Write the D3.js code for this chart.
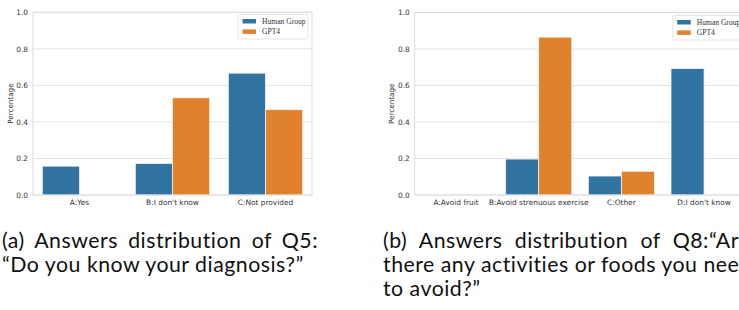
<!DOCTYPE html>
<html>
<head>
<meta charset="utf-8">
<script src="https://cdn.jsdelivr.net/npm/d3@7"></script>
<style>
  body { margin: 0; background: #fff; }
  svg { display: block; }
  .tick text { font-family: "DejaVu Sans", sans-serif; font-size: 7.4px; fill: #333; }
  .caption { font-family: Lato, sans-serif; font-size: 21.3px; letter-spacing: 0.5px; fill: #111; }
</style>
</head>
<body>
<svg id="chart" width="739" height="310"></svg>
<script>
// answers to Q5
var q5Categories = ["A:Yes", "B:I don't know", "C:Not provided"];
var q5Human = [0.158, 0.173, 0.667];
var q5Gpt4 = [0, 0.532, 0.467];

// answers to Q8
var q8Categories = ["A:Avoid fruit", "B:Avoid strenuous exercise", "C:Other", "D:I don't know"];
var q8Human = [0, 0.197, 0.104, 0.693];
var q8Gpt4 = [0, 0.865, 0.130, 0];

var seriesNames = ["Human Group", "GPT4"];
var yTicks = [0, 0.2, 0.4, 0.6, 0.8, 1.0];

var colors = ["#3274a1", "#e1812c"];
var svg = d3.select("#chart");

var drawPanel = function(cfg) {
    var x = d3.scaleBand().domain(cfg.categories).range([cfg.x0, cfg.x1]).paddingInner(0).paddingOuter(0);
    var y = d3.scaleLinear().domain([0, 1]).range([cfg.y1, cfg.y0]);
    var sub = d3.scaleBand().domain(seriesNames).range([0, x.bandwidth() * 0.8]);
    var g = svg.append("g");

    // grid lines
    g.append("g").selectAll("line").data(yTicks).join("line")
        .attr("x1", cfg.x0).attr("x2", cfg.x1)
        .attr("y1", function(d) { return y(d); }).attr("y2", function(d) { return y(d); })
        .attr("stroke", "#e3e3e3").attr("stroke-width", 1);

    // bars
    var rows = cfg.categories.map(function(c, i) {
        return [{cat: c, s: 0, v: cfg.human[i]}, {cat: c, s: 1, v: cfg.gpt4[i]}];
    });
    g.append("g").selectAll("g").data(rows).join("g")
        .selectAll("rect").data(function(d) { return d; }).join("rect")
        .attr("x", function(d) { return x(d.cat) + x.bandwidth() * 0.1 + sub(seriesNames[d.s]); })
        .attr("width", sub.bandwidth())
        .attr("y", function(d) { return y(d.v); })
        .attr("height", function(d) { return y(0) - y(d.v); })
        .attr("fill", function(d) { return colors[d.s]; })
        .attr("stroke", function(d) { return d.v > 0 ? "#f4f4f4" : "none"; })
        .attr("stroke-width", 0.8);

    // spines
    g.append("rect").attr("x", cfg.x0).attr("y", cfg.y0)
        .attr("width", cfg.x1 - cfg.x0).attr("height", cfg.y1 - cfg.y0)
        .attr("fill", "none").attr("stroke", "#dcdcdc").attr("stroke-width", 1);

    // axes
    var yAxis = g.append("g").attr("transform", "translate(" + cfg.x0 + ",0)")
        .call(d3.axisLeft(y).tickValues(yTicks).tickFormat(d3.format(".1f")).tickSize(0).tickPadding(5));
    yAxis.select(".domain").remove();
    var xAxis = g.append("g").attr("transform", "translate(0," + cfg.y1 + ")")
        .call(d3.axisBottom(x).tickSize(0).tickPadding(5));
    xAxis.select(".domain").remove();

    g.append("text")
        .attr("transform", "translate(" + cfg.labelX + "," + ((cfg.y0 + cfg.y1) / 2) + ") rotate(-90)")
        .attr("text-anchor", "middle").attr("dy", "0.35em")
        .attr("font-family", "DejaVu Sans, sans-serif").attr("font-size", 7.2).attr("fill", "#333")
        .text("Percentage");

    // legend
    var lg = g.append("g").attr("transform", "translate(" + cfg.legendX + "," + cfg.legendY + ")");
    lg.append("rect").attr("width", 70).attr("height", 24.5).attr("rx", 1.5)
        .attr("fill", "#fff").attr("stroke", "#dddddd").attr("stroke-width", 0.8);
    seriesNames.forEach(function(name, i) {
        lg.append("rect").attr("x", 4.5).attr("y", 4.5 + i * 10.4).attr("width", 13.5).attr("height", 4.5)
            .attr("fill", colors[i]);
        lg.append("text").attr("x", 24).attr("y", 9.3 + i * 10.4)
            .attr("font-family", "Liberation Serif, serif").attr("font-size", 7.6).attr("fill", "#333")
            .text(name);
    });
};

drawPanel({categories: q5Categories, human: q5Human, gpt4: q5Gpt4,
    x0: 33, x1: 312, y0: 12.3, y1: 195, labelX: 10, legendX: 238, legendY: 14.5});
drawPanel({categories: q8Categories, human: q8Human, gpt4: q8Gpt4,
    x0: 414.7, x1: 745.4, y0: 12.5, y1: 195, labelX: 391, legendX: 672.7, legendY: 15.5});

// captions, justified lines get extra word spacing
var captionLine = function(txt, xPos, yPos, prefix, target) {
    var t = svg.append("text").attr("class", "caption").attr("x", xPos).attr("y", yPos).text(prefix || txt);
    if (prefix) {
        var natural = t.node().getComputedTextLength();
        var spaces = prefix.split(" ").length - 1;
        t.text(txt).style("word-spacing", Math.max(0, (target - natural) / spaces) + "px");
    }
    return t;
};
captionLine("(a) Answers distribution of Q5:", 2, 248, "(a) Answers distribution of Q5:", 316);
captionLine("\u201cDo you know your diagnosis?\u201d", 2, 272);
captionLine("(b) Answers distribution of Q8:\u201cAre", 383, 248, "(b) Answers distribution of Q8:\u201cAr", 356);
captionLine("there any activities or foods you need", 383, 272, "there any activities or foods you nee", 356);
captionLine("to avoid?\u201d", 383, 296);
</script>
</body>
</html>
